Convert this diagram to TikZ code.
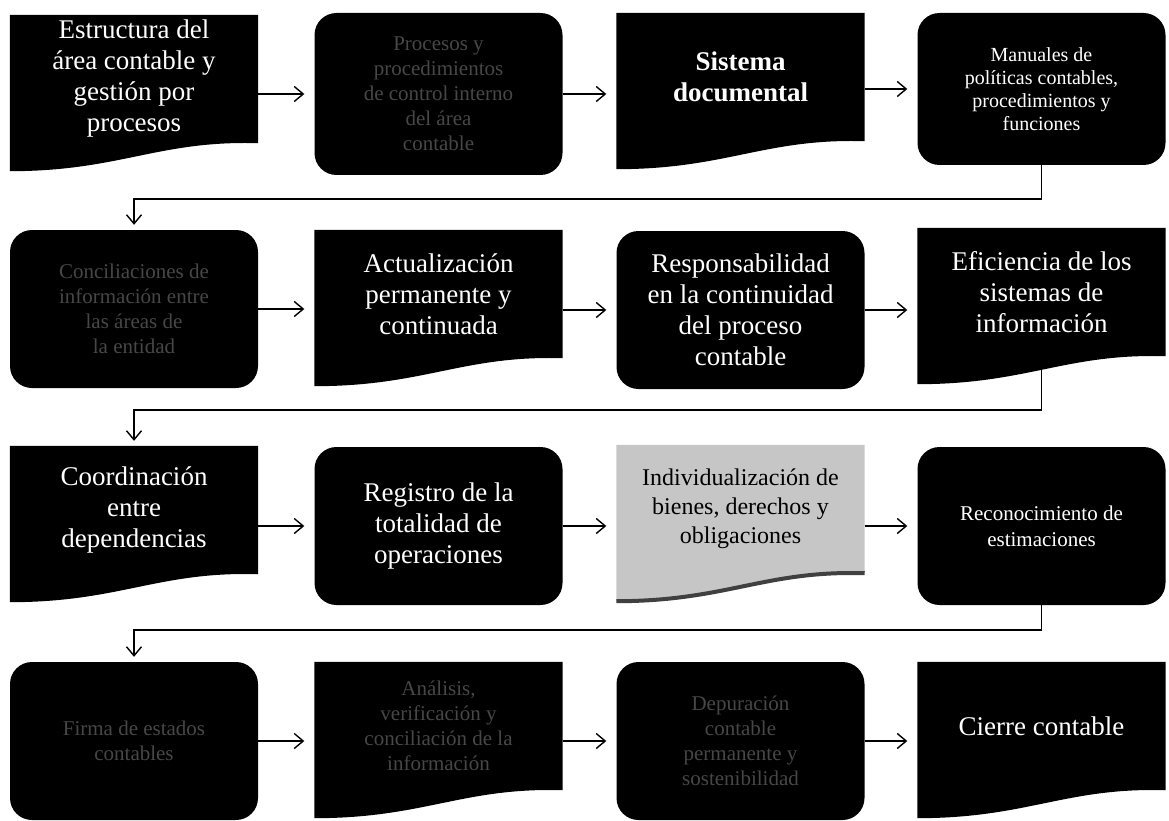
\documentclass[tikz,border=0pt]{standalone}
\usepackage{fontspec}
\setmainfont{Liberation Serif}
\usetikzlibrary{arrows.meta,calc,backgrounds}

\tikzset{
  caja/.style={fill=black, text=white, rounded corners=22pt, minimum width=248pt,
    minimum height=158pt, align=center, font=\fontsize{27}{31}\selectfont},
  hoja/.style={text=white, minimum width=248pt, minimum height=128pt, align=center,
    font=\fontsize{27}{31}\selectfont},
  borroso/.style={text=black!72!white, font=\fontsize{21}{25}\selectfont},
  chica/.style={font=\fontsize{20}{23}\selectfont},
  flecha/.style={line width=1.4pt, -{Straight Barb[length=9pt,width=15pt]}, shorten >=10pt},
  bajada/.style={line width=1.4pt, -{Straight Barb[length=9pt,width=15pt]}, shorten >=5pt}
}

\begin{document}
\begin{tikzpicture}[x=1pt,y=-1pt]
    \useasboundingbox (0,0) rectangle (1169,821);

    % fila 1
    \node[hoja] (est) at (134,79) {Estructura del\\área contable y\\gestión por\\procesos};
    \node[caja,borroso,minimum height=162pt] (pro) at (438.5,94) {Procesos y\\procedimientos\\de control interno\\del área\\contable};
    \node[hoja,font=\bfseries\fontsize{27}{31}\selectfont] (sis) at (740.5,77) {Sistema\\documental};
    \node[caja,chica,minimum height=152pt] (man) at (1041.5,89) {Manuales de\\políticas contables,\\procedimientos y\\funciones};

    % fila 2
    \node[caja,borroso] (con) at (134,309) {Conciliaciones de\\información entre\\las áreas de\\la entidad};
    \node[hoja] (act) at (438.5,294) {Actualización\\permanente y\\continuada};
    \node[caja] (res) at (740.5,310) {Responsabilidad\\en la continuidad\\del proceso\\contable};
    \node[hoja] (efi) at (1041.5,292) {Eficiencia de los\\sistemas de\\información};

    % fila 3
    \node[hoja] (coo) at (134,510) {Coordinación\\entre\\dependencias};
    \node[caja] (reg) at (438.5,526) {Registro de la\\totalidad de\\operaciones};
    \node[hoja,text=black,font=\fontsize{24}{29}\selectfont] (ind) at (740.5,509) {Individualización de\\bienes, derechos y\\obligaciones};
    \node[caja,font=\fontsize{21}{26}\selectfont] (rec) at (1041.5,526) {Reconocimiento de\\estimaciones};

    % fila 4
    \node[caja,borroso] (fir) at (134,741) {Firma de estados\\contables};
    \node[hoja,borroso] (ana) at (438.5,726) {Análisis,\\verificación y\\conciliación de la\\información};
    \node[caja,borroso] (dep) at (740.5,741) {Depuración\\contable\\permanente y\\sostenibilidad};
    \node[hoja] (cie) at (1041.5,726) {Cierre contable};

    % hojas con borde ondulado
    \begin{scope}[on background layer]
    \foreach \n/\c in {est/black,sis/black,act/black,efi/black,coo/black,ind/gray!45,ana/black,cie/black}
      \fill[\c] (\n.north west) -- (\n.north east) -- (\n.south east)
        .. controls ($(\n.south east)+(-100,-3)$) and ($(\n.south west)+(110,28)$) .. ($(\n.south west)+(0,28)$) -- cycle;
    \draw[line width=4pt,black!75] (ind.south east)
        .. controls ($(ind.south east)+(-100,-3)$) and ($(ind.south west)+(110,28)$) .. ($(ind.south west)+(0,28)$);
    \end{scope}

    % flechas
    \draw[flecha] (est.east |- pro.west) -- (pro.west);
    \draw[flecha] (pro.east) -- (pro.east -| sis.west);
    \draw[flecha] (sis.east |- man.west) -- (man.west);
    \draw[flecha] (con.east) -- (con.east -| act.west);
    \draw[flecha] (act.east |- res.west) -- (res.west);
    \draw[flecha] (res.east) -- (res.east -| efi.west);
    \draw[flecha] (coo.east |- reg.west) -- (reg.west);
    \draw[flecha] (reg.east) -- (reg.east -| ind.west);
    \draw[flecha] (ind.east |- rec.west) -- (rec.west);
    \draw[flecha] (fir.east) -- (fir.east -| ana.west);
    \draw[flecha] (ana.east |- dep.west) -- (dep.west);
    \draw[flecha] (dep.east) -- (dep.east -| cie.west);

    \coordinate (g1) at (1041.5,199);
    \coordinate (g2) at (1041.5,410);
    \coordinate (g3) at (1041.5,630);
    \draw[bajada] (man.south) -- (g1) -| (con.north);
    \draw[bajada] (efi.south) -- (g2) -| (coo.north);
    \draw[bajada] (rec.south) -- (g3) -| (fir.north);
\end{tikzpicture}
\end{document}
